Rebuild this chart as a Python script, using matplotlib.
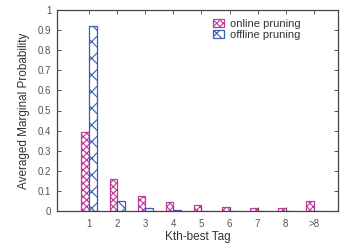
import matplotlib
matplotlib.use("Agg")
import matplotlib.pyplot as plt
import numpy as np

categories = ["1", "2", "3", "4", "5", "6", "7", "8", ">8"]
online = [0.395, 0.158, 0.075, 0.045, 0.03, 0.021, 0.016, 0.013, 0.05]
offline = [0.922, 0.051, 0.015, 0.005, 0.002, 0.002, 0.002, 0.002, 0.002]
yticks = [0, 0.1, 0.2, 0.3, 0.4, 0.5, 0.6, 0.7, 0.8, 0.9, 1]

plt.rcParams['font.family'] = ['Liberation Sans', 'DejaVu Sans']
plt.rcParams['hatch.linewidth'] = 0.8

fig = plt.figure(figsize=(3.46, 2.46), dpi=100)
ax = fig.add_axes([57/346, 1-211/246, (338-57)/346, (211-10)/246])

x = np.arange(len(categories))
w = 0.27
pink = '#c03c9c'
blue = '#3a5fae'
ax.bar(x - w/2, online, w, facecolor='white', edgecolor=pink, hatch='xxxxx',
       linewidth=0.9, label='online pruning')
ax.bar(x + w/2, offline, w, facecolor='white', edgecolor=blue, hatch='xx',
       linewidth=0.9, label='offline pruning')

ax.set_xlim(-1.14, 8.86)
ax.set_ylim(0, 1)
ax.set_xticks(x)
ax.set_xticklabels(categories)
ax.set_yticks(yticks)
ax.set_yticklabels([f"{v:g}" for v in yticks])
ax.tick_params(direction='in', top=True, right=True, length=3, width=0.7,
               labelsize=7, colors='#555555', pad=4)
ax.tick_params(axis='x', pad=6)
for s in ax.spines.values():
    s.set_color('#444444')
    s.set_linewidth(0.9)

ax.set_xlabel('Kth-best Tag', fontsize=8.5, color='#333333', labelpad=1)
ax.set_ylabel('Averaged Marginal Probability', fontsize=8.5, color='#333333', labelpad=6)

leg = ax.legend(loc='upper right', bbox_to_anchor=(0.9, 1.0), frameon=False, fontsize=8,
                handlelength=1.0, handleheight=0.7, handletextpad=0.6,
                labelspacing=0.1, borderpad=0.3)
for t in leg.get_texts():
    t.set_color('#333333')

fig.savefig('out.png', dpi=100)
